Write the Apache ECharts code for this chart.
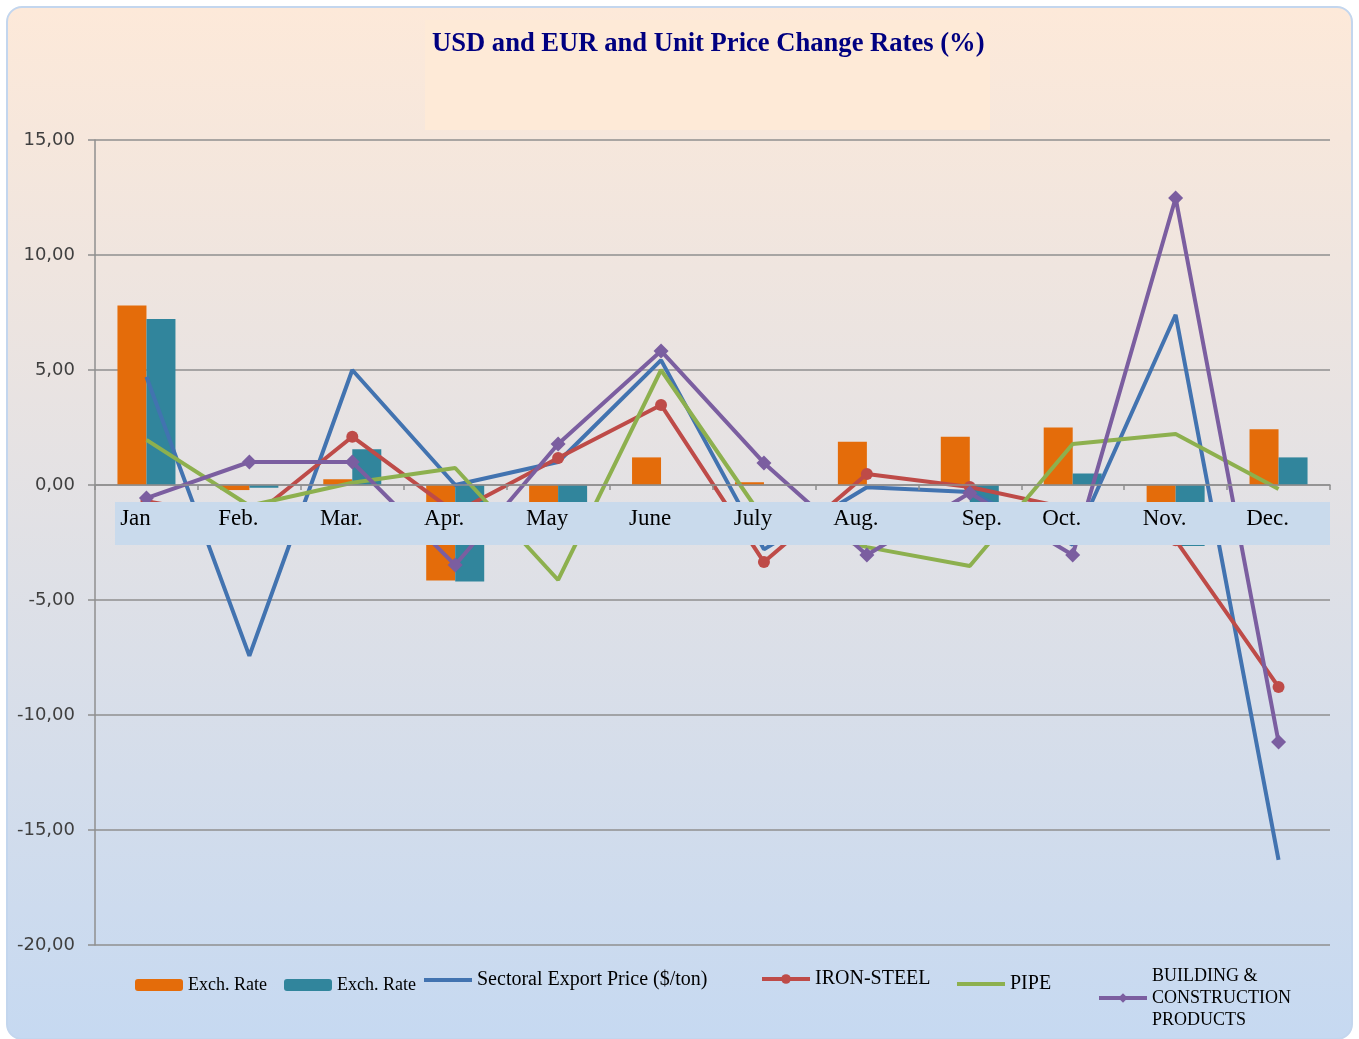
<!DOCTYPE html>
<html>
<head>
<meta charset="utf-8">
<script src="https://cdn.jsdelivr.net/npm/echarts@6/dist/echarts.min.js"></script>
<style>
  html, body { margin: 0; padding: 0; background: #ffffff; }
  #frame {
    position: absolute; left: 6px; top: 6px; width: 1347px; height: 1034px;
    box-sizing: border-box; border: 2px solid #C3D6EE; border-radius: 16px;
    background: linear-gradient(#FDE9D9, #C6D9F1);
  }
  #chart { position: absolute; left: 0; top: 0; width: 1359px; height: 1039px; }
</style>
</head>
<body>
<div id="frame"></div>
<div id="chart"></div>
<script>
// months on the x axis
var months = ['Jan', 'Feb.', 'Mar.', 'Apr.', 'May', 'June', 'July', 'Aug.', 'Sep.', 'Oct.', 'Nov.', 'Dec.'];

// change rates (%)
var usdRate = [7.8, -0.22, 0.25, -4.15, -1.5, 1.2, 0.12, 1.88, 2.1, 2.5, -1.8, 2.42];
var eurRate = [7.22, -0.12, 1.55, -4.2, -1.3, 0, 0, 0, -1.0, 0.5, -2.65, 1.2];
var sectoral = [4.7, -7.43, 5.0, 0.0, 1.0, 5.43, -2.8, -0.1, -0.3, -2.6, 7.4, -16.3];
var ironSteel = [-0.7, -1.5, 2.1, -1.2, 1.17, 3.48, -3.35, 0.48, -0.09, -1.05, -2.4, -8.78];
var pipe = [1.96, -0.9, 0.1, 0.74, -4.13, 5.0, -1.5, -2.7, -3.52, 1.78, 2.22, -0.17];
var building = [-0.57, 1.0, 1.0, -3.48, 1.78, 5.83, 0.96, -3.04, -0.35, -3.04, 12.48, -11.17];

var serif = "'Liberation Serif', 'Times New Roman', serif";

var myChart = echarts.init(document.getElementById('chart'));

function legendAt(name, left, size, extra) {
  var lg = {
    data: [name],
    left: left,
    top: 974,
    itemWidth: 48,
    itemHeight: 12,
    itemGap: 0,
    padding: 0,
    lineStyle: { width: 4 },
    textStyle: { fontFamily: serif, fontSize: size, color: '#000000' },
    formatter: function (n) {
      if (n === 'USD Exch. Rate' || n === 'EUR Exch. Rate') return 'Exch. Rate';
      if (n === 'BUILDING & CONSTRUCTION PRODUCTS') return 'BUILDING &\nCONSTRUCTION\nPRODUCTS';
      return n;
    }
  };
  return Object.assign(lg, extra || {});
}

// Sep. label sits a little right of its slot in the original
var xLabels = months.map(function (m) {
  return m === 'Sep.' ? { value: m, textStyle: { padding: [0, 0, 0, 24] } } : m;
});

var option = {
  backgroundColor: 'transparent',
  animation: false,
  title: {
    text: 'USD and EUR and Unit Price Change Rates (%)',
    left: 432,
    top: 31,
    padding: 0,
    textStyle: { fontFamily: serif, fontSize: 26.6, fontWeight: 'bold', color: '#000080' }
  },
  graphic: [
    { type: 'rect', z: 1, silent: true, shape: { x: 425, y: 20, width: 565, height: 110 },
      style: { fill: '#FEEAD7' } },
    { type: 'rect', z: 5, silent: true, shape: { x: 115, y: 502, width: 1215, height: 43 },
      style: { fill: '#C9DAEC' } }
  ],
  legend: [
    legendAt('USD Exch. Rate', 135, 18, { top: 976 }),
    legendAt('EUR Exch. Rate', 284, 18, { top: 976 }),
    legendAt('Sectoral Export Price ($/ton)', 424, 20, { top: 970, icon: 'rect', itemHeight: 4 }),
    legendAt('IRON-STEEL', 760, 20, { top: 969 }),
    legendAt('PIPE', 957, 20, { icon: 'rect', itemHeight: 4 }),
    legendAt('BUILDING & CONSTRUCTION PRODUCTS', 1097, 18, {
      top: 905,
      textStyle: { fontFamily: serif, fontSize: 18, color: '#000000', lineHeight: 22, padding: [120, 0, 0, 0] }
    })
  ],
  grid: { left: 95, right: 29, top: 140, bottom: 94 },
  xAxis: {
    type: 'category',
    data: xLabels,
    z: 10,
    offset: -460,
    axisLine: { onZero: false, lineStyle: { color: '#8F8F8F', width: 1.5 } },
    axisTick: { show: true, length: 5, lineStyle: { color: '#8F8F8F', width: 1.5 } },
    axisLabel: {
      margin: 22,
      padding: [0, 22, 0, 0],
      fontFamily: serif,
      fontSize: 23,
      color: '#000000'
    }
  },
  yAxis: {
    type: 'value',
    min: -20,
    max: 15,
    interval: 5,
    axisLine: { show: true, lineStyle: { color: '#8F8F8F', width: 1.5 } },
    axisTick: { show: true, length: 7, lineStyle: { color: '#8F8F8F', width: 1.5 } },
    splitLine: { lineStyle: { color: '#8F8F8F', width: 1.5 } },
    axisLabel: {
      margin: 20,
      fontFamily: "'DejaVu Sans', Verdana, sans-serif",
      fontSize: 18,
      color: '#3F3F3F',
      formatter: function (v) { return v.toFixed(2).replace('.', ','); }
    }
  },
  series: [
    { name: 'USD Exch. Rate', type: 'bar', data: usdRate, barWidth: 29, barGap: '0%',
      itemStyle: { color: '#E46C0A' } },
    { name: 'EUR Exch. Rate', type: 'bar', data: eurRate, barWidth: 29, barGap: '0%',
      itemStyle: { color: '#31859C' } },
    { name: 'Sectoral Export Price ($/ton)', type: 'line', data: sectoral, symbol: 'none',
      lineStyle: { color: '#4273B0', width: 4 }, itemStyle: { color: '#4273B0' } },
    { name: 'IRON-STEEL', type: 'line', data: ironSteel, symbol: 'circle', symbolSize: 12,
      lineStyle: { color: '#BE4B48', width: 4 }, itemStyle: { color: '#BE4B48' } },
    { name: 'PIPE', type: 'line', data: pipe, symbol: 'none',
      lineStyle: { color: '#8DB04E', width: 4 }, itemStyle: { color: '#8DB04E' } },
    { name: 'BUILDING & CONSTRUCTION PRODUCTS', type: 'line', data: building, symbol: 'diamond', symbolSize: 15,
      lineStyle: { color: '#7B5EA0', width: 4 }, itemStyle: { color: '#7B5EA0' } }
  ]
};

myChart.setOption(option);
</script>
</body>
</html>
